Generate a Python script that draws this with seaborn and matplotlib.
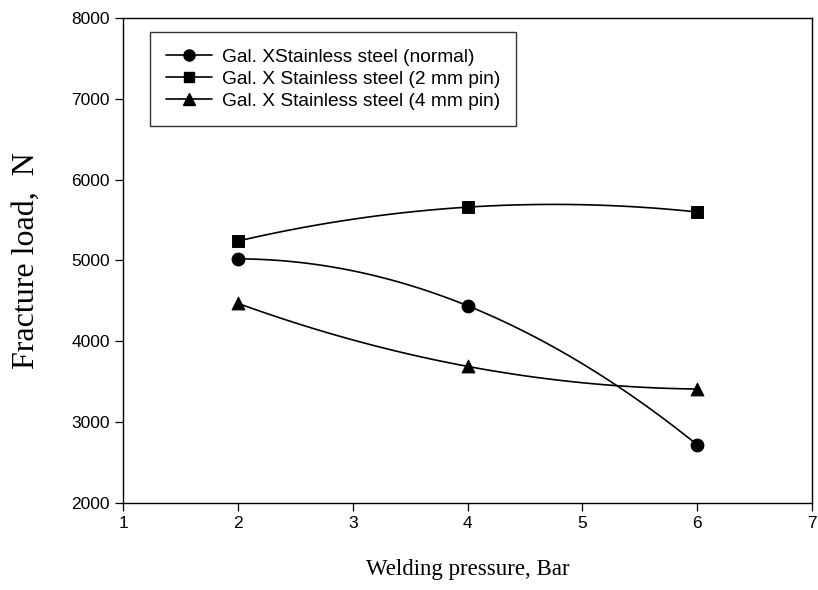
import numpy as np
import pandas as pd
import seaborn as sns
import matplotlib.pyplot as plt
from matplotlib.lines import Line2D

# --- data ---
pressure = [2, 4, 6]
normal = [5020, 4440, 2720]
pin_2mm = [5240, 5660, 5600]
pin_4mm = [4470, 3690, 3410]

series_names = [
    "Gal. XStainless steel (normal)",
    "Gal. X Stainless steel (2 mm pin)",
    "Gal. X Stainless steel (4 mm pin)",
]
series_values = [normal, pin_2mm, pin_4mm]
series_markers = ["o", "s", "^"]

x_ticks = [1, 2, 3, 4, 5, 6, 7]
y_ticks = [2000, 3000, 4000, 5000, 6000, 7000, 8000]

sns.set_style("ticks")
plt.rcParams["font.family"] = ["Liberation Sans", "DejaVu Sans"]
plt.rcParams["text.color"] = "black"
plt.rcParams["axes.labelcolor"] = "black"

fig = plt.figure(figsize=(8.18, 5.90), dpi=100)
ax = fig.add_axes([0.1504, 0.1475, 0.8423, 0.822])

handles = []
for name, vals, mk in zip(series_names, series_values, series_markers):
    df = pd.DataFrame({"x": pressure, "y": vals})
    # smooth connecting curve through the three measured points
    coef = np.polyfit(df["x"], df["y"], 2)
    xs = np.linspace(min(pressure), max(pressure), 100)
    curve = pd.DataFrame({"x": xs, "y": np.polyval(coef, xs)})
    sns.lineplot(data=curve, x="x", y="y", ax=ax, color="black", lw=1.2)
    sns.scatterplot(data=df, x="x", y="y", ax=ax, marker=mk, color="black",
                    s=85 if mk != "s" else 70, edgecolor="black", zorder=3)
    handles.append(Line2D([], [], color="black", lw=1.2, marker=mk,
                          markersize=8 if mk != "s" else 7))

ax.set_xlim(1, 7)
ax.set_ylim(2000, 8000)
ax.set_xticks(x_ticks)
ax.set_yticks(y_ticks)
ax.tick_params(axis="both", direction="out", length=6, width=0.9,
               labelsize=12.5, colors="black")
for sp in ax.spines.values():
    sp.set_color("black")
    sp.set_linewidth(1.0)

ax.set_xlabel("Welding pressure, Bar", family="Liberation Serif",
              fontsize=16.5, labelpad=20)
ax.set_ylabel("Fracture load,  N", family="Liberation Serif",
              fontsize=23, labelpad=22)

leg = ax.legend(handles, series_names, loc="upper left",
                bbox_to_anchor=(0.039, 0.971), borderaxespad=0,
                fontsize=13.8, frameon=True, fancybox=False,
                handlelength=2.4, handletextpad=0.5, labelspacing=0.25,
                borderpad=0.85)
leg.get_frame().set_edgecolor("black")
leg.get_frame().set_linewidth(1.0)

fig.savefig("out.png", dpi=100)
